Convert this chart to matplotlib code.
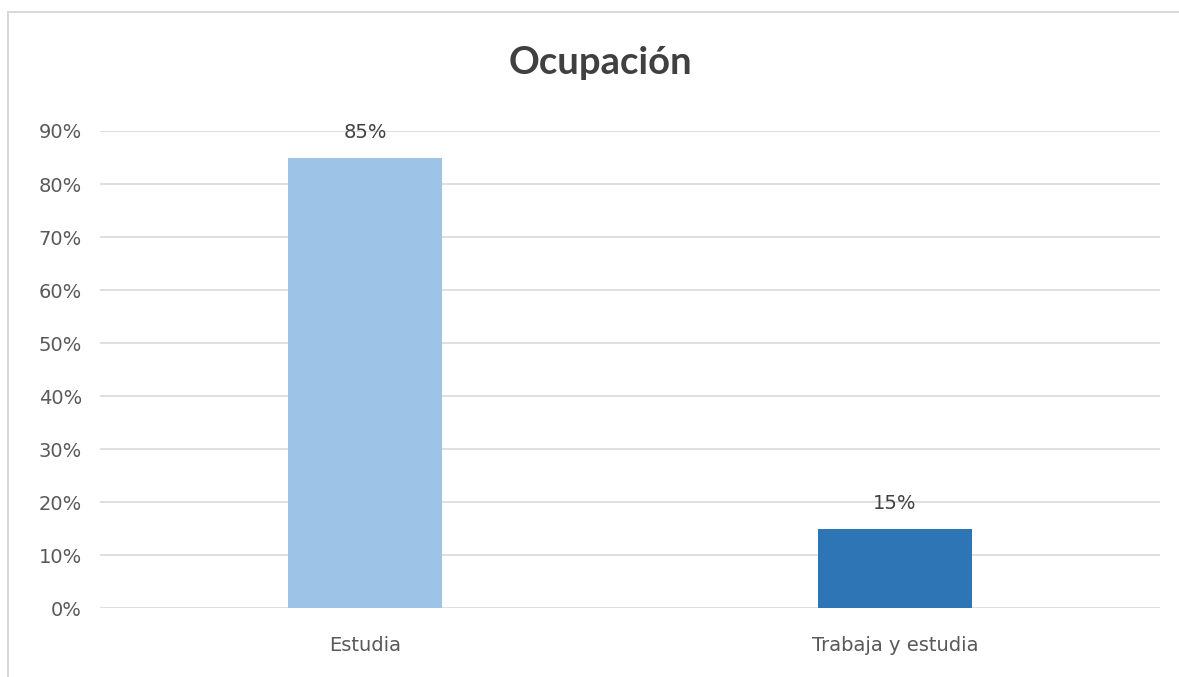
import matplotlib.pyplot as plt
from matplotlib.patches import Rectangle
from matplotlib.ticker import PercentFormatter

# Occupation breakdown
categorias = ['Estudia', 'Trabaja y estudia']
porcentajes = [0.85, 0.15]
colores = ['#9DC3E6', '#2E75B6']
ticks_y = [0.0, 0.1, 0.2, 0.3, 0.4, 0.5, 0.6, 0.7, 0.8, 0.9]

plt.rcParams['font.family'] = ['DejaVu Sans']

fig = plt.figure(figsize=(11.79, 6.77), dpi=100)
ax = fig.add_axes([0.0848, 0.1019, 0.8992, 0.7046])

x = range(len(categorias))
bars = ax.bar(x, porcentajes, width=0.29, color=colores, zorder=3)

for b, v in zip(bars, porcentajes):
    ax.text(b.get_x() + b.get_width() / 2, v + 0.03, f'{v:.0%}',
            ha='center', va='bottom', fontsize=14, color='#404040')

ax.set_xlim(-0.5, 1.5)
ax.set_ylim(0, 0.9)
ax.set_yticks(ticks_y)
ax.yaxis.set_major_formatter(PercentFormatter(1.0, decimals=0))
ax.set_xticks(list(x))
ax.set_xticklabels(categorias)
ax.tick_params(axis='both', length=0, labelsize=14, labelcolor='#595959')
ax.tick_params(axis='x', pad=20)
ax.tick_params(axis='y', pad=13)
ax.grid(axis='y', color='#D9D9D9', linewidth=1.2, zorder=0)
for s in ax.spines.values():
    s.set_visible(False)

fig.text(0.509, 0.907, 'Ocupación', ha='center', va='center',
         fontsize=27.5, fontweight='bold', color='#404040', family='Lato')

# chart frame, only its top and left edges fall inside the canvas
fig.add_artist(Rectangle((8 / 1179, -0.5), 2.0, 1.5 - 12 / 677,
                         transform=fig.transFigure, fill=False,
                         edgecolor='#D9D9D9', linewidth=1.5))

fig.savefig('out.png', dpi=100)
